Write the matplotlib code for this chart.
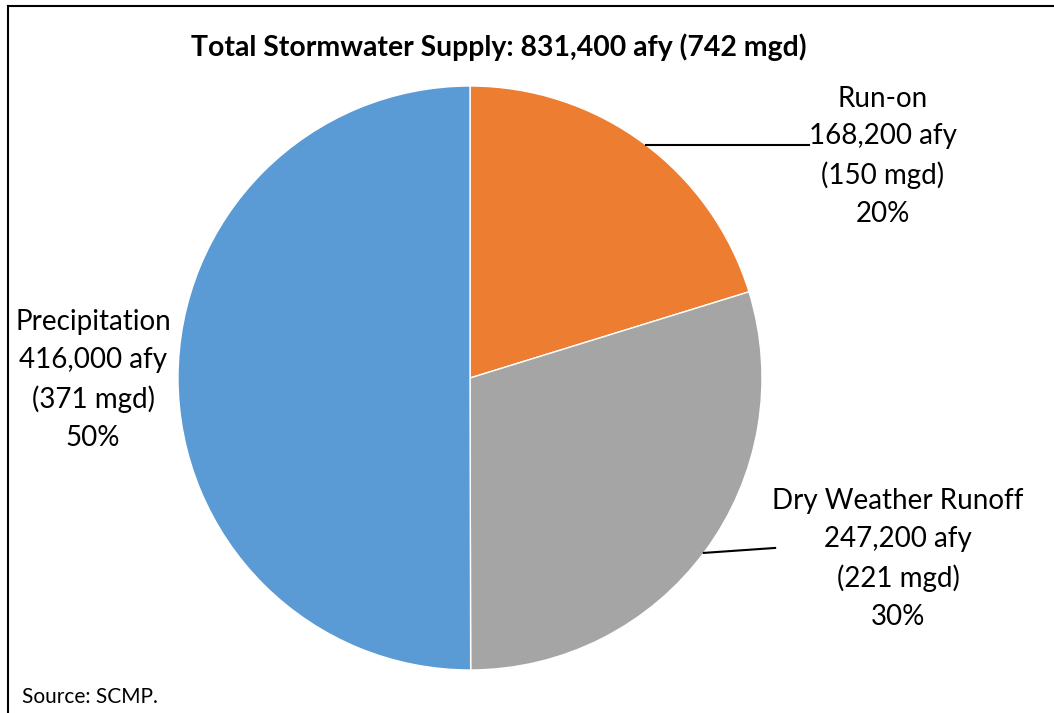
import matplotlib
matplotlib.use("Agg")
import matplotlib.pyplot as plt
from matplotlib.lines import Line2D
import numpy as np

plt.rcParams['font.family'] = ['Lato', 'DejaVu Sans']

# Data
categories = ["Run-on", "Dry Weather Runoff", "Precipitation"]
afy = [168200, 247200, 416000]
mgd = [150, 221, 371]
colors = ["#ED7D31", "#A5A5A5", "#5B9BD5"]
title = "Total Stormwater Supply: 831,400 afy (742 mgd)"
source = "Source: SCMP."

W, H = 1054, 713
fig = plt.figure(figsize=(W / 100, H / 100), dpi=100)
fig.patch.set_facecolor("white")

cx, cy, r = 470, 378, 292
ax = fig.add_axes([(cx - r) / W, (H - cy - r) / H, 2 * r / W, 2 * r / H])
wedges, _ = ax.pie(afy, colors=colors, startangle=90, counterclock=False,
                   radius=1, wedgeprops=dict(edgecolor="white", linewidth=1.0))
ax.set_xlim(-1, 1)
ax.set_ylim(-1, 1)
ax.set_aspect("equal")
ax.axis("off")

total = sum(afy)
# label positions (data units, 1 = radius)
label_pos = [(1.414, 0.759), (1.466, -0.62), (-1.291, -0.007)]
line_start_y = [0.798, -0.599, None]
line_end = [(1.16, 0.798), (1.045, -0.582), None]

for w, cat, a, m, pos, ys, le in zip(wedges, categories, afy, mgd, label_pos,
                                      line_start_y, line_end):
    pct = round(100 * a / total)
    txt = f"{cat}\n{a:,} afy\n({m} mgd)\n{pct}%"
    ax.text(pos[0], pos[1], txt, ha="center", va="center", fontsize=20,
            linespacing=1.55, color="black", clip_on=False)
    if le is not None:
        x0 = np.sqrt(max(0.0, 1 - ys ** 2))  # point on pie edge
        ax.add_line(Line2D([x0, le[0]], [ys, le[1]],
                           color="black", lw=1.5, clip_on=False))

fig.text(499 / W, 1 - 47 / H, title, ha="center", va="center",
         fontsize=20.4, fontweight="bold")
fig.text(22 / W, 1 - 697 / H, source, ha="left", va="center", fontsize=15)

# border (left and top)
fig.add_artist(Line2D([8 / W, 8 / W], [0, 1 - 6 / H], transform=fig.transFigure,
                      color="black", lw=1.5))
fig.add_artist(Line2D([8 / W, 1], [1 - 6 / H, 1 - 6 / H], transform=fig.transFigure,
                      color="black", lw=1.5))

fig.savefig("out.png", dpi=100)
